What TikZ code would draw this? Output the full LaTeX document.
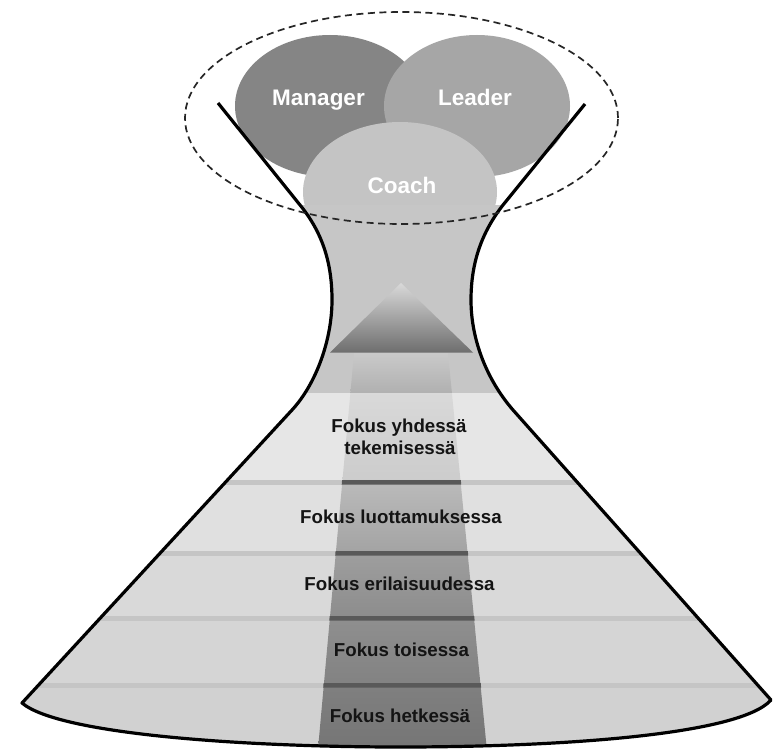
\documentclass[tikz,border=0pt]{standalone}
\usepackage{fontspec}
\setmainfont{Liberation Sans}
\definecolor{mgr}{HTML}{858585}
\definecolor{ldr}{HTML}{A6A6A6}
\definecolor{cch}{HTML}{C4C4C4}
\definecolor{neck}{HTML}{C6C6C6}
\definecolor{bandA}{HTML}{E6E6E6}
\definecolor{bandB}{HTML}{E0E0E0}
\definecolor{bandC}{HTML}{D9D9D9}
\definecolor{bandD}{HTML}{D5D5D5}
\definecolor{bandE}{HTML}{D1D1D1}
\definecolor{sepc}{HTML}{C5C5C5}
\definecolor{sepdark}{HTML}{595959}
\tikzset{
  role/.style={font=\fontsize{22.5}{26}\selectfont\bfseries, text=white, anchor=base, inner sep=0pt},
  focus/.style={font=\fontsize{18.7}{22}\selectfont\bfseries, text=black!92, anchor=base, inner sep=0pt},
  outline/.style={line width=3.2pt, line join=round, black},
  dashring/.style={dash pattern=on 7pt off 4.5pt, line width=1.7pt, black!85},
}
\begin{document}
\begin{tikzpicture}[x=1pt,y=-1pt]
\useasboundingbox[fill=white] (0,0) rectangle (773,749);
% role ellipses
\fill[mgr] (330,106) ellipse [x radius=95pt, y radius=71pt];
\fill[ldr] (477,106) ellipse [x radius=93pt, y radius=71pt];
\fill[cch] (400,192) ellipse [x radius=97pt, y radius=70pt];
% funnel body
\fill[neck] (300,205) .. controls (322,232) and (332,262) .. (332,300) .. controls (332,340) and (316,384) .. (292,410) -- (22,703) .. controls (60,735) and (250,747) .. (400,747) .. controls (560,747) and (740,735) .. (771,700) -- (513,410) .. controls (487,380) and (471,340) .. (471,300) .. controls (471,262) and (482,232) .. (503,205) -- cycle;
\begin{scope}
\clip (300,205) .. controls (322,232) and (332,262) .. (332,300) .. controls (332,340) and (316,384) .. (292,410) -- (22,703) .. controls (60,735) and (250,747) .. (400,747) .. controls (560,747) and (740,735) .. (771,700) -- (513,410) .. controls (487,380) and (471,340) .. (471,300) .. controls (471,262) and (482,232) .. (503,205) -- cycle;
\fill[bandA] (0,393) rectangle (773,482);
\fill[bandB] (0,482) rectangle (773,553);
\fill[bandC] (0,553) rectangle (773,618);
\fill[bandD] (0,618) rectangle (773,685);
\fill[bandE] (0,685) rectangle (773,749);
\foreach \yy in {482,553,618,685} {\fill[sepc] (0,\yy-2) rectangle (773,\yy+2.5);}
% central strip
\shade[top color=black!21, bottom color=black!31] (354,353) -- (448,353) -- (451.9,393) -- (350.4,393) -- cycle;
\shade[top color=black!15, bottom color=black!20] (350.4,393) -- (451.9,393) -- (460.6,482) -- (342.3,482) -- cycle;
\shade[top color=black!27, bottom color=black!36] (342.3,482) -- (460.6,482) -- (467.6,553) -- (335.8,553) -- cycle;
\shade[top color=black!38, bottom color=black!45] (335.8,553) -- (467.6,553) -- (474,618) -- (329.9,618) -- cycle;
\shade[top color=black!44, bottom color=black!49] (329.9,618) -- (474,618) -- (480.5,685) -- (323.8,685) -- cycle;
\shade[top color=black!50, bottom color=black!54] (323.8,685) -- (480.5,685) -- (486.8,749) -- (318,749) -- cycle;
\fill[sepdark] (342.1,480) -- (460.8,480) -- (461.2,484.5) -- (341.7,484.5) -- cycle;
\fill[sepdark] (335.6,551) -- (467.8,551) -- (468.2,555.5) -- (335.2,555.5) -- cycle;
\fill[sepdark] (329.7,616) -- (474.2,616) -- (474.6,620.5) -- (329.3,620.5) -- cycle;
\fill[sepdark] (323.6,683) -- (480.7,683) -- (481.1,687.5) -- (323.2,687.5) -- cycle;
% triangle
\shade[top color=black!15, bottom color=black!57] (401,283) -- (473,352.5) -- (330,352.5) -- cycle;
\end{scope}
% outline
\draw[outline] (218,103) -- (300,205) .. controls (322,232) and (332,262) .. (332,300) .. controls (332,340) and (316,384) .. (292,410) -- (22,703) .. controls (60,735) and (250,747) .. (400,747) .. controls (560,747) and (740,735) .. (771,700) -- (513,410) .. controls (487,380) and (471,340) .. (471,300) .. controls (471,262) and (482,232) .. (503,205) -- (585,104);
% dashed ring
\draw[dashring] (401.5,118) ellipse [x radius=216.5pt, y radius=106pt];
% labels
\node[role] (manager) at (318.5,106) {Manager};
\node[role] (leader) at (475,106) {Leader};
\node[role] (coach) at (402,193) {Coach};
\node[focus] (f1a) at (399,432) {Fokus yhdessä};
\node[focus] (f1b) at (400,454) {tekemisessä};
\node[focus] (f2) at (401,523) {Fokus luottamuksessa};
\node[focus] (f3) at (399.5,590) {Fokus erilaisuudessa};
\node[focus] (f4) at (401.5,656) {Fokus toisessa};
\node[focus] (f5) at (400,722.5) {Fokus hetkessä};
\end{tikzpicture}
\end{document}
